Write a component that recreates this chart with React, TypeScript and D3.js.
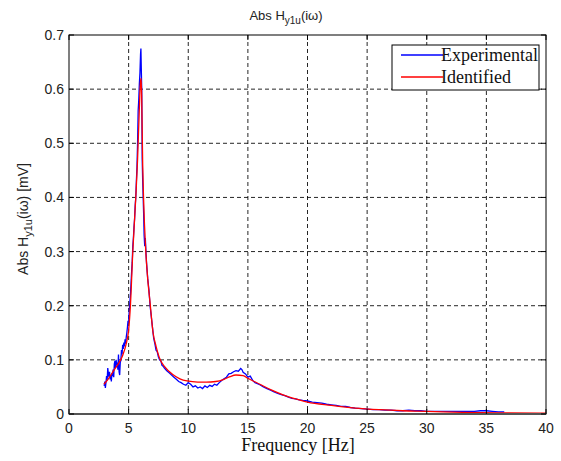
import React from 'react';
import * as d3 from 'd3';

const expFreq = [
  2.95, 3.0, 3.05, 3.1, 3.15, 3.2, 3.25, 3.3, 3.35, 3.4, 3.45, 3.5, 3.55, 3.6, 3.65, 3.7, 3.75, 3.8, 3.85, 3.9,
  3.95, 4.0, 4.05, 4.1, 4.15, 4.2, 4.25, 4.3, 4.35, 4.4, 4.45, 4.5, 4.55, 4.6, 4.65, 4.7, 4.75, 4.8, 4.85, 4.9,
  4.95, 5.0, 5.05, 5.1, 5.15, 5.2, 5.25, 5.3, 5.35, 5.4, 5.45, 5.5, 5.55, 5.6, 5.65, 5.7, 5.75, 5.8, 5.85, 5.9,
  5.95, 6.0, 6.03, 6.06, 6.1, 6.14, 6.18, 6.22, 6.26, 6.3, 6.35, 6.4, 6.45, 6.5, 6.55, 6.6, 6.7, 6.8, 6.9, 7.0,
  7.1, 7.2, 7.3, 7.4, 7.5, 7.6, 7.7, 7.8, 7.9, 8.0, 8.2, 8.4, 8.6, 8.8, 9.0, 9.2, 9.4, 9.6, 9.8, 10.0,
  10.2, 10.4, 10.6, 10.8, 11.0, 11.2, 11.4, 11.6, 11.8, 12.0, 12.2, 12.4, 12.6, 12.8, 13.0, 13.2, 13.4, 13.6, 13.8, 14.0,
  14.2, 14.4, 14.5, 14.6, 14.8, 15.0, 15.2, 15.4, 15.6, 15.8, 16.0, 16.3, 16.6, 16.9, 17.2, 17.5, 17.8, 18.1, 18.4, 18.7,
  19.0, 19.3, 19.6, 20.0, 20.4, 20.8, 21.2, 21.6, 22.0, 22.4, 22.8, 23.2, 23.6, 24.0, 24.5, 25.0, 25.5, 26.0, 26.5, 27.0,
  27.5, 28.0, 28.5, 29.0, 29.5, 30.0, 30.5, 31.0, 31.5, 32.0, 33.0, 34.0, 34.5, 35.0, 35.5, 36.0, 36.5,
];
const expValue = [
  0.052, 0.06, 0.048, 0.058, 0.07, 0.062, 0.085, 0.075, 0.068, 0.078, 0.064, 0.072, 0.06, 0.075, 0.07, 0.082, 0.068, 0.092, 0.098, 0.085,
  0.1, 0.09, 0.095, 0.082, 0.11, 0.078, 0.072, 0.095, 0.1, 0.118, 0.11, 0.128, 0.12, 0.132, 0.125, 0.138, 0.13, 0.142, 0.15, 0.16,
  0.172, 0.168, 0.19, 0.205, 0.22, 0.24, 0.262, 0.28, 0.31, 0.325, 0.345, 0.36, 0.385, 0.4, 0.43, 0.455, 0.5, 0.56, 0.58, 0.61,
  0.63, 0.665, 0.675, 0.64, 0.6, 0.47, 0.43, 0.4, 0.37, 0.33, 0.31, 0.325, 0.3, 0.28, 0.265, 0.25, 0.23, 0.2, 0.18, 0.16,
  0.14, 0.13, 0.118, 0.115, 0.105, 0.1, 0.098, 0.09, 0.088, 0.085, 0.08, 0.076, 0.072, 0.068, 0.064, 0.06, 0.058, 0.055, 0.053, 0.058,
  0.055, 0.05, 0.052, 0.048, 0.05, 0.047, 0.052, 0.049, 0.053, 0.051, 0.055, 0.053, 0.058, 0.062, 0.065, 0.068, 0.074, 0.075, 0.078, 0.08,
  0.079, 0.084, 0.082, 0.077, 0.074, 0.068, 0.07, 0.062, 0.058, 0.056, 0.054, 0.05, 0.047, 0.044, 0.041, 0.038, 0.036, 0.034, 0.031, 0.029,
  0.028, 0.026, 0.025, 0.024, 0.022, 0.021, 0.02, 0.018, 0.017, 0.016, 0.014, 0.014, 0.012, 0.011, 0.01, 0.009, 0.008, 0.008, 0.007, 0.007,
  0.006, 0.006, 0.007, 0.006, 0.006, 0.005, 0.005, 0.005, 0.005, 0.005, 0.005, 0.005, 0.006, 0.006, 0.005, 0.004, 0.004,
];

// Identified model response
const idFreq = [
  2.93, 3.3, 3.8, 4.2, 4.5, 4.8, 5.0, 5.15, 5.35, 5.6, 5.75, 5.9, 6.0, 6.05, 6.1, 6.18, 6.25, 6.44, 6.6, 6.8,
  7.05, 7.3, 7.65, 8.0, 8.7, 9.3, 9.9, 10.8, 11.5, 12.3, 13.0, 13.5, 14.0, 14.6, 15.0, 16, 17, 18, 19, 20,
  22, 24, 26, 28, 30, 33, 36, 40,
];
const idValue = [
  0.055, 0.065, 0.082, 0.095, 0.108, 0.13, 0.155, 0.2, 0.3, 0.4, 0.47, 0.565, 0.615, 0.62, 0.58, 0.46, 0.4, 0.3, 0.25, 0.205,
  0.15, 0.125, 0.1, 0.088, 0.073, 0.065, 0.061, 0.059, 0.059, 0.06, 0.064, 0.069, 0.072, 0.071, 0.066, 0.055, 0.044, 0.035, 0.028, 0.022,
  0.016, 0.011, 0.008, 0.006, 0.005, 0.003, 0.002, 0.0015,
];

const xTicks = [0, 5, 10, 15, 20, 25, 30, 35, 40];
const yTicks = [0, 0.1, 0.2, 0.3, 0.4, 0.5, 0.6, 0.7];

const seriesNames = ['Experimental', 'Identified'];
const seriesColors = ['#0000ff', '#ff0000'];

const W = 561;
const H = 461;
const m = { left: 69, right: 546, top: 35, bottom: 414 };

const sans = '"Liberation Sans", Arial, sans-serif';
const serif = '"Liberation Serif", "Times New Roman", serif';

export default function App() {
  const x = d3.scaleLinear().domain([0, 40]).range([m.left, m.right]);
  const y = d3.scaleLinear().domain([0, 0.7]).range([m.bottom, m.top]);

  const expLine = d3.line<number>()
    .x((_, i) => x(expFreq[i]))
    .y((d) => y(d));
  const idLine = d3.line<number>()
    .x((_, i) => x(idFreq[i]))
    .y((d) => y(d))
    .curve(d3.curveMonotoneX);

  const tickLen = 5;

  return (
    <svg width={W} height={H} style={{ position: 'absolute', left: 0, top: 0, background: '#fff' }}>
      <rect x={0} y={0} width={W} height={H} fill="#fff" />

      {/* grid */}
      {xTicks.slice(1, -1).map((t) => (
        <line key={'gx' + t} x1={x(t)} x2={x(t)} y1={m.top} y2={m.bottom}
          stroke="#000" strokeWidth={1} strokeDasharray="4,3" opacity={0.85} />
      ))}
      {yTicks.slice(1, -1).map((t) => (
        <line key={'gy' + t} x1={m.left} x2={m.right} y1={y(t)} y2={y(t)}
          stroke="#000" strokeWidth={1} strokeDasharray="4,3" opacity={0.85} />
      ))}

      {/* data */}
      <path d={expLine(expValue) || ''} fill="none" stroke={seriesColors[0]} strokeWidth={1.3} />
      <path d={idLine(idValue) || ''} fill="none" stroke={seriesColors[1]} strokeWidth={1.3} />

      {/* axes box */}
      <rect x={m.left} y={m.top} width={m.right - m.left} height={m.bottom - m.top}
        fill="none" stroke="#000" strokeWidth={1} />
      <line x1={m.left} x2={m.right} y1={m.bottom} y2={m.bottom} stroke="#555" strokeWidth={2} />

      {/* ticks */}
      {xTicks.map((t) => (
        <g key={'tx' + t}>
          <line x1={x(t)} x2={x(t)} y1={m.bottom} y2={m.bottom - tickLen} stroke="#000" />
          <line x1={x(t)} x2={x(t)} y1={m.top} y2={m.top + tickLen} stroke="#000" />
          <text x={x(t)} y={433} textAnchor="middle" fontFamily={sans} fontSize={14} fill="#222">{t}</text>
        </g>
      ))}
      {yTicks.map((t) => (
        <g key={'ty' + t}>
          <line x1={m.left} x2={m.left + tickLen} y1={y(t)} y2={y(t)} stroke="#000" />
          <line x1={m.right} x2={m.right - tickLen} y1={y(t)} y2={y(t)} stroke="#000" />
          <text x={64} y={y(t) + 5} textAnchor="end" fontFamily={sans} fontSize={14} fill="#222">{t === 0 ? '0' : d3.format('.1f')(t)}</text>
        </g>
      ))}

      {/* title */}
      <text x={286} y={20} textAnchor="middle" fontFamily={sans} fontSize={13} fill="#222">
        Abs H<tspan fontSize={10} dy={4}>y1u</tspan><tspan dy={-4}>(iω)</tspan>
      </text>

      {/* axis labels */}
      <text x={298} y={451} textAnchor="middle" fontFamily={serif} fontSize={18} fill="#111">Frequency [Hz]</text>
      <text transform={`translate(28,${219}) rotate(-90)`} textAnchor="middle" fontFamily={sans} fontSize={14} fill="#222">
        Abs H<tspan fontSize={11} dy={4}>y1u</tspan><tspan dy={-4}>(iω) [mV]</tspan>
      </text>

      {/* legend */}
      <rect x={392} y={45} width={147} height={45} fill="#fff" stroke="#000" strokeWidth={1} />
      {seriesNames.map((name, i) => (
        <g key={name}>
          <line x1={401} x2={443} y1={55 + i * 22} y2={55 + i * 22} stroke={seriesColors[i]} strokeWidth={1.3} />
          <text x={441} y={61 + i * 22} fontFamily={serif} fontSize={18} fill="#111">{name}</text>
        </g>
      ))}
    </svg>
  );
}
